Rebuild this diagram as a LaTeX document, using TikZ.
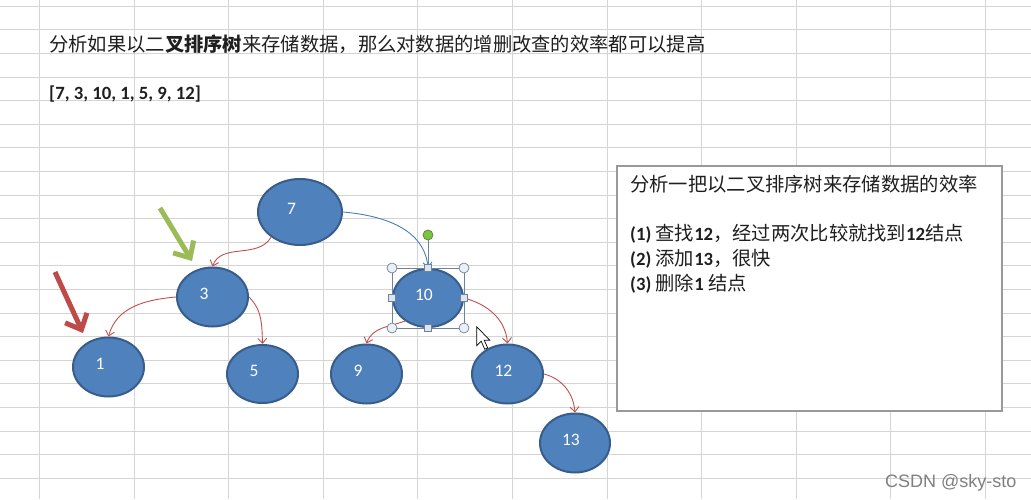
\documentclass[tikz,border=0pt]{standalone}
\usepackage{fontspec}
\setmainfont{Carlito}
\newfontfamily\cjk{Noto Sans CJK SC}
\newfontfamily\wmfont{Liberation Sans}
\newcommand\latb[1]{{\rmfamily\bfseries\fontsize{18.7}{24}\selectfont #1}}
\definecolor{nodeblue}{HTML}{4F81BD}
\definecolor{nodeedge}{HTML}{385D8A}
\definecolor{linkred}{HTML}{C0504D}
\definecolor{linkblue}{HTML}{4A7EBB}
\definecolor{hintgreen}{HTML}{9BBB59}
\definecolor{hintred}{HTML}{BE4B48}
\definecolor{gridgray}{HTML}{D4D4D4}
\definecolor{handlefill}{HTML}{DCE6F2}
\definecolor{handleedge}{HTML}{6F8296}
\definecolor{knobgreen}{HTML}{7DC242}
\usetikzlibrary{arrows.meta, positioning, shapes.geometric}

\begin{document}
\begin{tikzpicture}[
    x=1pt, y=1pt,
    gridline/.style={draw=gridgray, line width=1.4pt},
    treenode/.style={ellipse, draw=nodeedge, fill=nodeblue, line width=2pt, minimum width=71pt, minimum height=59pt, inner sep=0pt, text=white, text width=26pt, align=left, text height=10.7pt, text depth=5pt, font=\rmfamily\fontsize{17.5}{17.5}\selectfont},
    link/.style={-{Straight Barb[length=5pt, width=9pt]}, draw=linkred, line width=0.9pt},
    hint/.style={-{Straight Barb[length=13pt, width=24pt]}, line width=5pt},
    cjktext/.style={font=\cjk\fontsize{19.3}{24}\selectfont, text=black!88, inner sep=0pt, anchor=base west},
    infobox/.style={rectangle, draw=black!40, fill=white, line width=1.2pt, minimum width=385pt, minimum height=245pt},
    selbox/.style={draw=handleedge, line width=0.9pt},
    cornerknob/.style={circle, draw=handleedge, fill=handlefill!60, line width=0.7pt, minimum size=10pt, inner sep=0pt},
    sideknob/.style={rectangle, draw=handleedge, fill=handlefill, line width=0.7pt, minimum size=7pt, inner sep=0pt},
    rotknob/.style={circle, draw=knobgreen!70!black, fill=knobgreen, line width=0.7pt, minimum size=10pt, inner sep=0pt},
    watermark/.style={font=\wmfont\fontsize{18}{18}\selectfont, text=black!50, inner sep=0pt, anchor=base west}
]
\useasboundingbox (0,0) rectangle (1031,499);
\fill[white] (0,0) rectangle (1031,499);

% sheet grid
\foreach \gx in {0,...,10}{
  \pgfmathsetmacro\gxp{round(39+94.6*\gx)+0.5}
  \draw[gridline] (\gxp,0) -- (\gxp,499);
}
\foreach \gy in {0,...,20}{
  \pgfmathsetmacro\gyp{round(492.2-23.6*\gy)+0.5}
  \draw[gridline] (0,\gyp) -- (1031,\gyp);
}

% heading
\node[cjktext] (headline) at (49,447) {分析如果以二{\bfseries 叉排序树}来存储数据，那么对数据的增删改查的效率都可以提高};
\node[cjktext] (datalist) at (49,399) {\latb{[7, 3, 10, 1, 5, 9, 12]}};

% tree
\node[treenode, minimum width=84pt, minimum height=66pt] (n7) at (300,287) {7};
\node[treenode] (n3) at (212.5,202) {3};
\node[treenode] (n1) at (108.5,132) {1};
\node[treenode, minimum height=58pt] (n5) at (262.5,125) {5};
\node[treenode, minimum width=70pt, minimum height=58pt] (n10) at (428,201) {10};
\node[treenode] (n9) at (366.5,125) {9};
\node[treenode] (n12) at (507.5,125) {12};
\node[treenode, minimum width=70pt] (n13) at (575,56) {13};

\draw[link] (n7.221) to[out=-120, in=70] (n3.north);
\draw[link] (n3.west) to[out=185, in=75] (n1.north);
\draw[link] (n3.east) to[out=-45, in=92] (n5.north);
\draw[link, draw=linkblue] (n7.east) to[out=-5, in=95] (n10.north);
\draw[link] (n10.225) to[out=200, in=70] (n9.north);
\draw[link] (n10.east) to[out=-15, in=95] (n12.north);
\draw[link] (n12.east) to[out=-15, in=95] (n13.north);

% pointer arrows
\coordinate (greentail) at (160,291);
\coordinate (greentip) at (192,238);
\draw[hint, hintgreen] (greentail) -- (greentip);
\coordinate (redtail) at (55,227);
\coordinate (redtip) at (83,166);
\draw[hint, hintred] (redtail) -- (redtip);

% selection handles on 10
\draw[selbox] (n10.west |- n10.north) rectangle (n10.east |- n10.south);
\coordinate (rothandle) at ([yshift=33pt]n10.north);
\draw[selbox] (n10.north) -- (rothandle);
\node[rotknob] (rotknob) at (rothandle) {};
\foreach \h/\v in {west/north, east/north, west/south, east/south}
  \node[cornerknob] (c-\h-\v) at (n10.\h |- n10.\v) {};
\foreach \s in {north, south, east, west}
  \node[sideknob] (s-\s) at (n10.\s) {};

% mouse pointer
\coordinate (cursortip) at (476.7,172.3);
\draw[fill=white, draw=black, line width=0.7pt, shift={(cursortip)}]
  (0,0) -- (0,-19) -- (4.5,-14.5) -- (8,-22.5) -- (11,-21.2) -- (7.5,-13.5) -- (13,-13.5) -- cycle;

% notes box
\node[infobox] (infobox) at (809.5,210.5) {};
\node[cjktext] (boxtitle) at (630,307) {分析一把以二叉排序树来存储数据的效率};
\node[cjktext] (item1) at (630,258.5) {\latb{(1)} 查找\latb{12}，经过两次比较就找到\latb{12}结点};
\node[cjktext] (item2) at (630,234) {\latb{(2)} 添加\latb{13}，很快};
\node[cjktext] (item3) at (630,209) {\latb{(3)} 删除\latb{1} 结点};

\node[watermark] (csdn) at (885,12) {CSDN @sky-sto};
\end{tikzpicture}
\end{document}
